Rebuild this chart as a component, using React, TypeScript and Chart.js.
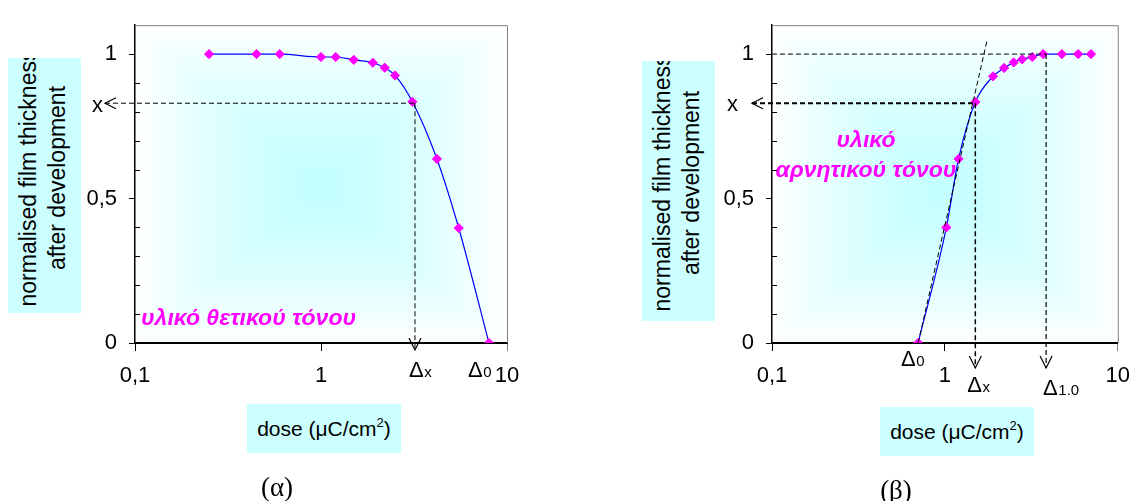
import React, { useEffect, useRef } from 'react';
import { Chart, registerables } from 'chart.js';

Chart.register(...registerables);

// ---- data ----
const positiveDose = [0.25, 0.45, 0.6, 1.0, 1.2, 1.5, 1.9, 2.2, 2.5, 3.1, 4.2, 5.5, 8.0];
const positiveThickness = [1, 1, 1, 0.99, 0.99, 0.98, 0.97, 0.953, 0.926, 0.835, 0.637, 0.398, 0];

const negativeDose = [0.7, 1.02, 1.2, 1.5, 1.9, 2.2, 2.5, 2.8, 3.2, 3.7, 4.75, 5.9, 7.0];
const negativeThickness = [0, 0.4, 0.637, 0.834, 0.923, 0.952, 0.971, 0.982, 0.99, 1, 1, 1, 1];

const xTickValues = [0.1, 1, 10];
const xTickLabels = ['0,1', '1', '10'];
const yTickValues = [0, 0.1, 0.2, 0.3, 0.4, 0.5, 0.6, 0.7, 0.8, 0.9, 1.0];
const yLabelValues = [0, 0.5, 1];
const yLabelTexts = ['0', '0,5', '1'];

// annotation values (dose / thickness levels)
const positiveMarkLevel = 0.83;
const positiveDx = 3.2;
const positiveD0 = 8.0;
const negativeMarkLevel = 0.83;
const negativeD0 = 0.7;
const negativeDx = 1.5;
const negativeD10 = 3.85;
const tangentEnd = [1.75, 1.045];

const positiveText = ['υλικό θετικού τόνου'];
const negativeText = ['υλικό', 'αρνητικού τόνου'];

const FONT = "'Liberation Sans', Arial, Helvetica, sans-serif";
const CYAN_BOX = '#ccffff';

function dashedLine(ctx: CanvasRenderingContext2D, x1: number, y1: number, x2: number, y2: number, w = 1, dash = [5, 3]) {
  ctx.save();
  ctx.strokeStyle = '#000';
  ctx.lineWidth = w;
  ctx.setLineDash(dash);
  ctx.beginPath();
  ctx.moveTo(x1, y1);
  ctx.lineTo(x2, y2);
  ctx.stroke();
  ctx.restore();
}

function arrowLeft(ctx: CanvasRenderingContext2D, tipX: number, y: number) {
  ctx.save();
  ctx.strokeStyle = '#000';
  ctx.lineWidth = 1.2;
  ctx.beginPath();
  ctx.moveTo(tipX + 11, y - 5.5);
  ctx.lineTo(tipX, y);
  ctx.lineTo(tipX + 11, y + 5.5);
  ctx.stroke();
  ctx.restore();
}

function arrowDown(ctx: CanvasRenderingContext2D, x: number, tipY: number) {
  ctx.save();
  ctx.strokeStyle = '#000';
  ctx.lineWidth = 1.2;
  ctx.beginPath();
  ctx.moveTo(x - 6, tipY - 12);
  ctx.lineTo(x, tipY);
  ctx.lineTo(x + 6, tipY - 12);
  ctx.stroke();
  ctx.restore();
}

function deltaLabel(ctx: CanvasRenderingContext2D, left: number, baseline: number, sub: string) {
  ctx.save();
  ctx.fillStyle = '#000';
  ctx.textAlign = 'left';
  ctx.textBaseline = 'alphabetic';
  ctx.font = `22px ${FONT}`;
  ctx.fillText('Δ', left, baseline);
  const w = ctx.measureText('Δ').width;
  ctx.font = `15px ${FONT}`;
  ctx.fillText(sub, left + w + 0.5, baseline);
  ctx.restore();
}

function plainText(ctx: CanvasRenderingContext2D, text: string, x: number, y: number, font: string, color = '#000', align: CanvasTextAlign = 'center') {
  ctx.save();
  ctx.fillStyle = color;
  ctx.font = font;
  ctx.textAlign = align;
  ctx.textBaseline = 'middle';
  ctx.fillText(text, x, y);
  ctx.restore();
}

function makeGradient(w: number, h: number) {
  const c = document.createElement('canvas');
  c.width = w;
  c.height = h;
  const g = c.getContext('2d')!;
  const img = g.createImageData(w, h);
  const cx = w / 2, cy = h / 2;
  for (let y = 0; y < h; y++) {
    for (let x = 0; x < w; x++) {
      let t = Math.max(Math.abs(x - cx) / cx, Math.abs(y - cy) / cy);
      if (t > 1) t = 1;
      const s = 1 - Math.pow(t, 1.4);
      const i = (y * w + x) * 4;
      img.data[i] = Math.round(255 - (255 - 196) * s);
      img.data[i + 1] = 255;
      img.data[i + 2] = 255;
      img.data[i + 3] = 255;
    }
  }
  g.putImageData(img, 0, 0);
  return c;
}

const backgroundPlugin = {
  id: 'plotBackground',
  beforeDraw(chart: any) {
    const { ctx, chartArea: ca } = chart;
    const w = Math.round(ca.right - ca.left);
    const h = Math.round(ca.bottom - ca.top);
    ctx.save();
    ctx.drawImage(makeGradient(w, h), ca.left, ca.top);
    ctx.restore();
  },
};

const framePlugin = {
  id: 'plotFrame',
  afterDraw(chart: any) {
    const { ctx, chartArea: ca } = chart;
    const ys = chart.scales.y;
    ctx.save();
    ctx.strokeStyle = '#808080';
    ctx.lineWidth = 1;
    ctx.beginPath();
    ctx.moveTo(ca.left, ca.top + 0.5);
    ctx.lineTo(ca.right + 0.5, ca.top + 0.5);
    ctx.lineTo(ca.right + 0.5, ca.bottom);
    ctx.stroke();
    // inner minor ticks
    ctx.strokeStyle = '#000';
    ctx.beginPath();
    yTickValues.forEach((v) => {
      if (yLabelValues.some((l) => Math.abs(l - v) < 1e-9)) return;
      const py = Math.round(ys.getPixelForValue(v)) + 0.5;
      ctx.moveTo(ca.left, py);
      ctx.lineTo(ca.left + 5, py);
    });
    ctx.stroke();
    ctx.restore();
  },
};

function buildConfig(doses: number[], thickness: number[], layout: { top: number; right: number; yWidth: number; xHeight: number }, annotate: (chart: any) => void) {
  return {
    type: 'line' as const,
    data: {
      datasets: [
        {
          data: doses.map((d, i) => ({ x: d, y: thickness[i] })),
          borderColor: '#0000ff',
          borderWidth: 1.2,
          cubicInterpolationMode: 'monotone' as const,
          pointStyle: 'rectRot' as const,
          pointRadius: 4.6,
          pointBackgroundColor: '#ff00ff',
          pointBorderColor: '#ff00ff',
          pointBorderWidth: 1,
          fill: false,
        },
      ],
    },
    options: {
      responsive: false,
      animation: false as const,
      events: [],
      layout: { padding: { top: layout.top, right: layout.right, left: 0, bottom: 0 } },
      plugins: { legend: { display: false }, tooltip: { enabled: false }, title: { display: false } },
      scales: {
        x: {
          type: 'logarithmic' as const,
          min: 0.1,
          max: 10,
          afterBuildTicks: (s: any) => {
            s.ticks = xTickValues.map((v) => ({ value: v }));
          },
          afterFit: (s: any) => {
            s.height = layout.xHeight;
          },
          ticks: {
            autoSkip: false,
            maxRotation: 0,
            padding: 12,
            color: '#000',
            font: { family: FONT, size: 22 },
            callback: (v: any) => {
              const i = xTickValues.findIndex((t) => Math.abs(t - Number(v)) < 1e-9);
              return i >= 0 ? xTickLabels[i] : '';
            },
          },
          grid: {
            drawOnChartArea: false,
            drawTicks: true,
            tickLength: 8,
            lineWidth: 1,
            color: (c: any) => (c.tick && c.tick.value === 10 ? '#808080' : '#000'),
          },
          border: { display: true, color: '#000', width: 2 },
        },
        y: {
          type: 'linear' as const,
          min: 0,
          max: 1.1,
          afterBuildTicks: (s: any) => {
            s.ticks = yTickValues.map((v) => ({ value: v }));
          },
          afterFit: (s: any) => {
            s.width = layout.yWidth;
          },
          ticks: {
            autoSkip: false,
            padding: 12,
            color: '#000',
            font: { family: FONT, size: 22 },
            callback: (v: any) => {
              const i = yLabelValues.findIndex((t) => Math.abs(t - Number(v)) < 1e-9);
              return i >= 0 ? yLabelTexts[i] : '';
            },
          },
          grid: {
            drawOnChartArea: false,
            drawTicks: true,
            tickLength: 6,
            lineWidth: 1,
            color: (c: any) =>
              c.tick && yLabelValues.some((t) => Math.abs(t - c.tick.value) < 1e-9) ? '#000' : 'rgba(0,0,0,0)',
          },
          border: { display: true, color: '#000', width: 1.5 },
        },
      },
    },
    plugins: [backgroundPlugin, framePlugin, { id: 'annotations', afterDatasetsDraw: annotate }],
  };
}

const MAGENTA_FONT = `italic bold 23px ${FONT}`;

function annotatePositive(chart: any) {
  const { ctx, chartArea: ca } = chart;
  const xs = chart.scales.x;
  const ys = chart.scales.y;
  const yl = ys.getPixelForValue(positiveMarkLevel);
  const xd = xs.getPixelForValue(positiveDx);
  dashedLine(ctx, ca.left - 30, yl, xd, yl, 1);
  arrowLeft(ctx, ca.left - 30, yl);
  plainText(ctx, 'x', ca.left - 37.5, yl + 2.5, `22px ${FONT}`);
  dashedLine(ctx, xd, yl, xd, ca.bottom + 7, 1);
  arrowDown(ctx, xd, ca.bottom + 7);
  deltaLabel(ctx, xd - 6, ca.bottom + 34, 'x');
  deltaLabel(ctx, xs.getPixelForValue(positiveD0) - 21, ca.bottom + 34, '0');
  plainText(ctx, positiveText[0], ca.left + 6, ys.getPixelForValue(0.085), MAGENTA_FONT, '#ff00ff', 'left');
}

function annotateNegative(chart: any) {
  const { ctx, chartArea: ca } = chart;
  const xs = chart.scales.x;
  const ys = chart.scales.y;
  const yl = ys.getPixelForValue(negativeMarkLevel);
  const xd = xs.getPixelForValue(negativeDx);
  const y1 = ys.getPixelForValue(1);
  const x10 = xs.getPixelForValue(negativeD10);
  dashedLine(ctx, ca.left, y1, x10, y1, 1);
  dashedLine(ctx, x10, y1, x10, ca.bottom + 25, 1.2);
  arrowDown(ctx, x10, ca.bottom + 25);
  dashedLine(ctx, ca.left - 20, yl, xd, yl, 2);
  arrowLeft(ctx, ca.left - 20, yl);
  plainText(ctx, 'x', ca.left - 39.5, yl + 2, `22px ${FONT}`);
  dashedLine(ctx, xd, yl, xd, ca.bottom + 25, 1.5);
  arrowDown(ctx, xd, ca.bottom + 25);
  dashedLine(ctx, xs.getPixelForValue(negativeD0), ys.getPixelForValue(0), xs.getPixelForValue(tangentEnd[0]), ys.getPixelForValue(tangentEnd[1]), 1);
  deltaLabel(ctx, xs.getPixelForValue(negativeD0) - 17, ca.bottom + 23, '0');
  deltaLabel(ctx, xd - 8, ca.bottom + 49, 'x');
  deltaLabel(ctx, x10 - 3, ca.bottom + 52, '1.0');
  plainText(ctx, negativeText[0], ca.left + 94, ys.getPixelForValue(0.70), MAGENTA_FONT, '#ff00ff');
  plainText(ctx, negativeText[1], ca.left + 94, ys.getPixelForValue(0.598), MAGENTA_FONT, '#ff00ff');
}

function YTitle(p: { left: number; top: number; width: number; height: number; cx: number; cy: number }) {
  return (
    <div style={{ position: 'absolute', left: p.left, top: p.top, width: p.width, height: p.height, background: CYAN_BOX, overflow: 'hidden' }}>
      <div
        style={{
          position: 'absolute',
          left: p.cx - 160,
          top: p.cy - 29,
          width: 320,
          height: 58,
          transform: 'rotate(-90deg)',
          textAlign: 'center',
          fontFamily: FONT,
          fontSize: 23,
          lineHeight: '29px',
          whiteSpace: 'nowrap',
          color: '#000',
        }}
      >
        normalised film thickness
        <br />
        after development
      </div>
    </div>
  );
}

function XTitle(p: { left: number; top: number; width: number; height: number }) {
  return (
    <div
      style={{
        position: 'absolute',
        left: p.left,
        top: p.top,
        width: p.width,
        height: p.height,
        background: CYAN_BOX,
        display: 'flex',
        alignItems: 'center',
        justifyContent: 'center',
        fontFamily: FONT,
        fontSize: 21,
        color: '#000',
        whiteSpace: 'nowrap',
      }}
    >
      <span>
        dose (μC/cm<span style={{ fontSize: 13, position: 'relative', top: -9 }}>2</span>)
      </span>
    </div>
  );
}

function Caption(p: { text: string; cx: number; cy: number }) {
  return (
    <div
      style={{
        position: 'absolute',
        left: p.cx - 40,
        top: p.cy - 17,
        width: 80,
        height: 34,
        lineHeight: '34px',
        textAlign: 'center',
        fontFamily: "'Liberation Serif', 'Times New Roman', serif",
        fontSize: 27,
        color: '#000',
      }}
    >
      {p.text}
    </div>
  );
}

export default function App() {
  const leftRef = useRef<HTMLCanvasElement>(null);
  const rightRef = useRef<HTMLCanvasElement>(null);

  useEffect(() => {
    const c1 = new Chart(
      leftRef.current!,
      buildConfig(positiveDose, positiveThickness, { top: 17, right: 64, yWidth: 135, xHeight: 158 }, annotatePositive) as any
    );
    const c2 = new Chart(
      rightRef.current!,
      buildConfig(negativeDose, negativeThickness, { top: 25, right: 14, yWidth: 201, xHeight: 158 }, annotateNegative) as any
    );
    return () => {
      c1.destroy();
      c2.destroy();
    };
  }, []);

  return (
    <div style={{ position: 'absolute', left: 0, top: 0, width: 1142, height: 501, overflow: 'hidden', background: '#fff' }}>
      <canvas ref={leftRef} width={571} height={501} style={{ position: 'absolute', left: 0, top: 0 }} />
      <canvas ref={rightRef} width={571} height={501} style={{ position: 'absolute', left: 571, top: 0 }} />
      <YTitle left={8} top={58} width={73} height={255} cx={35} cy={120} />
      <YTitle left={642} top={61} width={73} height={260} cx={35} cy={122} />
      <XTitle left={247} top={404} width={154} height={49} />
      <XTitle left={880} top={407} width={154} height={49} />
      <Caption text="(α)" cx={277} cy={487} />
      <Caption text="(β)" cx={896} cy={490} />
    </div>
  );
}
